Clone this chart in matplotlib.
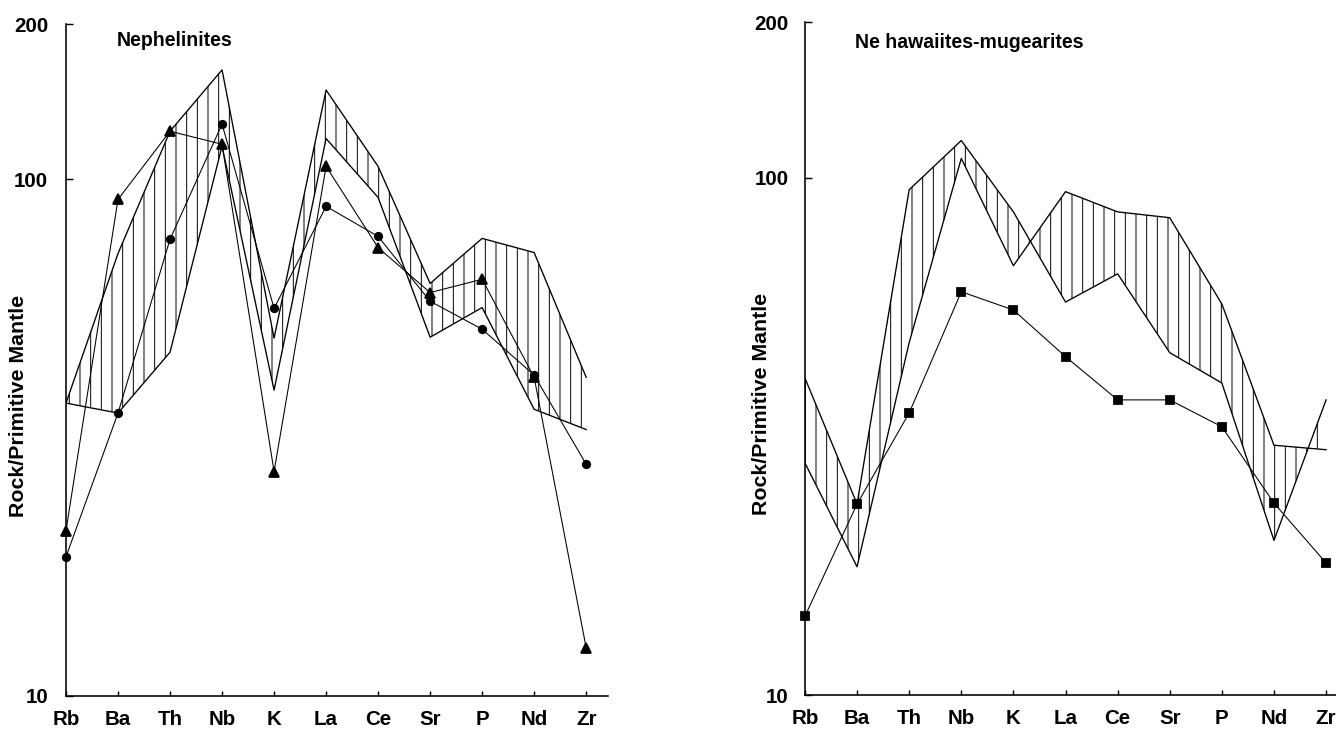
import matplotlib
matplotlib.use("Agg")
import matplotlib.pyplot as plt
import numpy as np

# ---------------- data ----------------
elements = ["Rb", "Ba", "Th", "Nb", "K", "La", "Ce", "Sr", "P", "Nd", "Zr"]

# Nephelinites
neph_band_a = [36.9, 71.9, 124, 163, 49.3, 149, 106, 62.9, 76.9, 72.2, 41.4]
neph_band_b = [36.9, 35.3, 46.3, 116, 39.1, 120, 92.3, 49.5, 56.5, 35.9, 32.8]
neph_triangles = [20.9, 91.5, 124, 117, 27.2, 106, 73.8, 60.4, 64.1, 41.4, 12.4]
neph_circles = [18.6, 35.3, 76.6, 128, 56.3, 88.7, 77.6, 58.1, 51.3, 41.8, 28.1]

# Ne hawaiites-mugearites
haw_band_a = [41.0, 23.4, 94.8, 118, 85.9, 57.5, 65.2, 45.9, 40.1, 19.9, 37.2]
haw_band_b = [28.1, 17.7, 48.0, 109, 67.6, 94.0, 85.9, 83.7, 57.0, 30.4, 29.8]
haw_squares = [14.2, 23.4, 35.1, 60.2, 55.5, 45.1, 37.2, 37.2, 33.0, 23.5, 18.0]

titles = ["Nephelinites", "Ne hawaiites-mugearites"]
ylabel = "Rock/Primitive Mantle"
yticks = [10, 100, 200]

# ---------------- style ----------------
DPI = 128
plt.rcParams["font.family"] = ["Liberation Sans Narrow", "Liberation Sans", "DejaVu Sans"]
plt.rcParams["hatch.linewidth"] = 0.55

fig = plt.figure(figsize=(1336 / DPI, 734 / DPI), dpi=DPI)
ax1 = fig.add_axes([0.0494, 0.0518, 0.4057, 0.9155])
ax2 = fig.add_axes([0.6025, 0.0531, 0.3975, 0.9169])

x = np.arange(len(elements))


def style_axes(ax, xmax, title, tpos, ylab_x, ypad):
    ax.set_yscale("log")
    ax.set_ylim(10, 200)
    ax.set_xlim(0, xmax)
    ax.set_yticks(yticks)
    ax.set_yticklabels([str(t) for t in yticks])
    ax.yaxis.set_minor_locator(matplotlib.ticker.NullLocator())
    ax.set_xticks(x)
    ax.set_xticklabels(elements, fontweight="bold")
    for s in ["top", "right"]:
        ax.spines[s].set_visible(False)
    for s in ["left", "bottom"]:
        ax.spines[s].set_linewidth(0.9)
    ax.tick_params(axis="x", direction="in", length=3, width=0.8, pad=8, labelsize=11.5)
    ax.tick_params(axis="y", direction="in", length=4, width=0.8, pad=ypad, labelsize=11.5)
    for lab in ax.get_yticklabels():
        lab.set_fontweight("bold")
    ax.set_ylabel(ylabel, fontsize=12, fontweight="bold")
    ax.yaxis.set_label_coords(ylab_x, 0.432)
    ax.text(tpos[0], tpos[1], title, transform=ax.transAxes, fontsize=11,
            fontweight="bold", ha="left", va="center")
    ax.patch.set_alpha(0)


def band(ax, a, b):
    ax.fill_between(x, a, b, facecolor="none", edgecolor="black",
                    linewidth=0, hatch="||", zorder=1)
    ax.plot(x, a, color="black", lw=0.75, zorder=2)
    ax.plot(x, b, color="black", lw=0.75, zorder=2)


# left panel
band(ax1, neph_band_a, neph_band_b)
ax1.plot(x, neph_triangles, color="black", lw=0.6, marker="^", ms=5.2, zorder=3, clip_on=False)
ax1.plot(x, neph_circles, color="black", lw=0.6, marker="o", ms=4.2, zorder=3, clip_on=False)
style_axes(ax1, 10.42, titles[0], (0.094, 0.976), -0.070, 10)

# right panel
band(ax2, haw_band_a, haw_band_b)
ax2.plot(x, haw_squares, color="black", lw=0.6, marker="s", ms=5.0, zorder=3, clip_on=False)
style_axes(ax2, 10.19, titles[1], (0.094, 0.969), -0.064, 9)

fig.savefig("out.png", dpi=DPI)
